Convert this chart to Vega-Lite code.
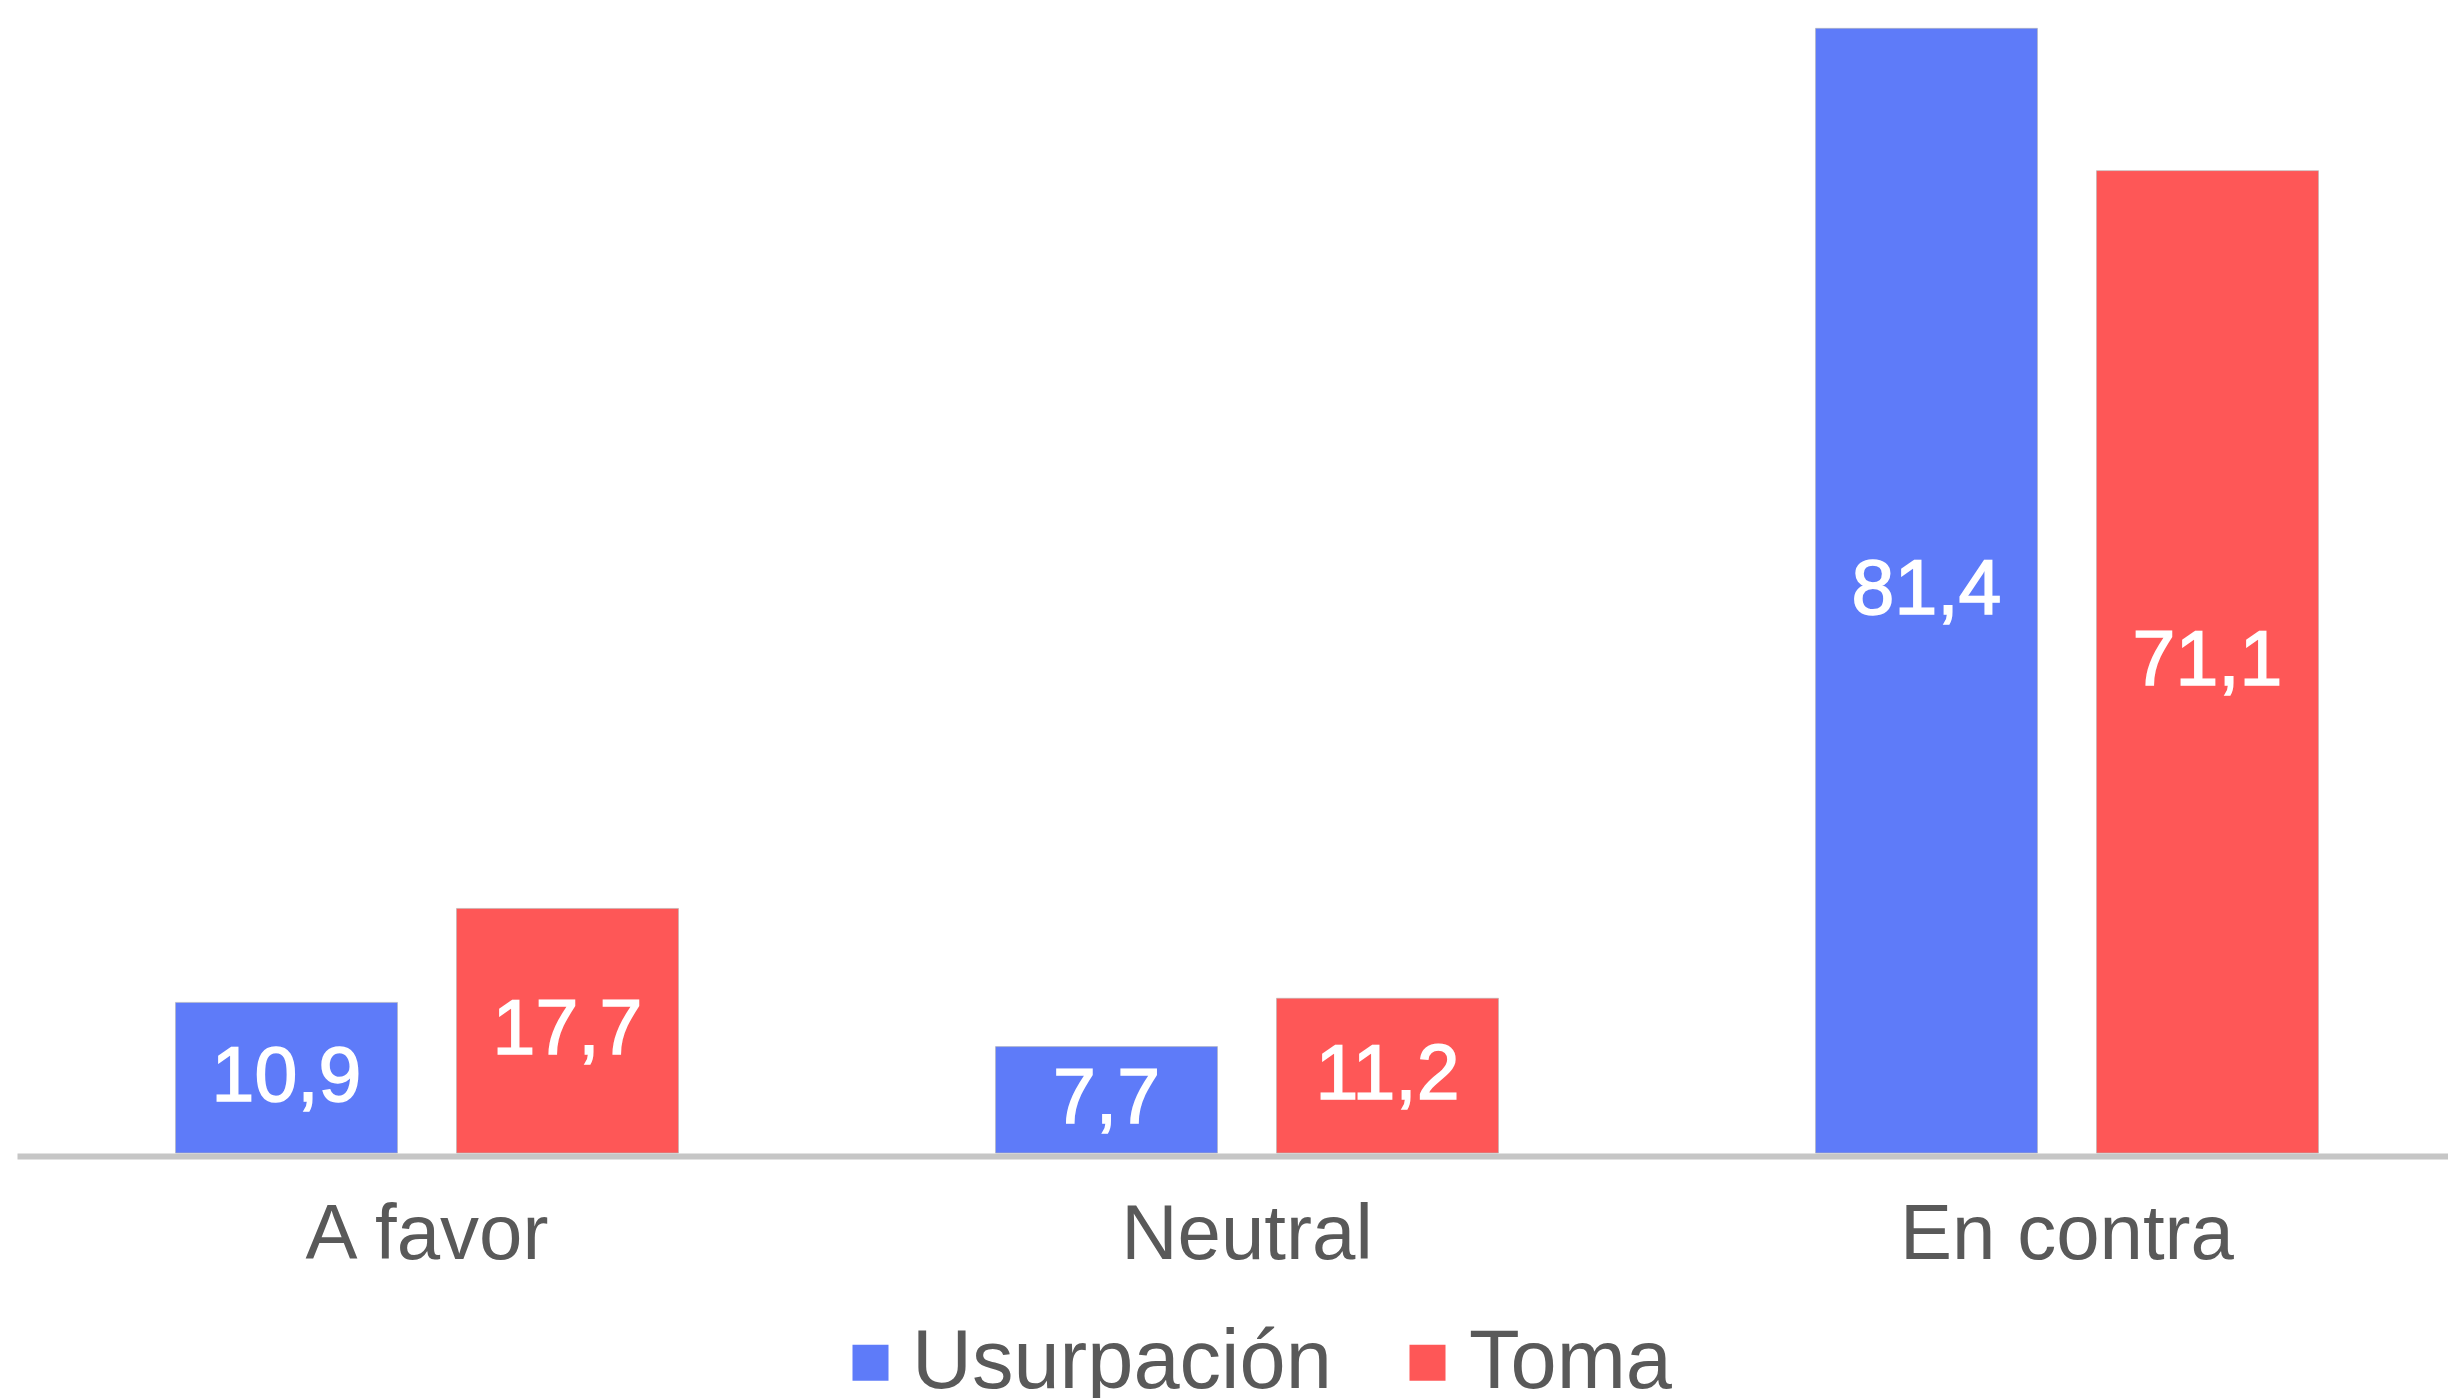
{
  "$schema": "https://vega.github.io/schema/vega-lite/v6.json",
  "width": 2431,
  "height": 1153,
  "autosize": {"type": "none"},
  "padding": {"left": 17, "top": 0, "right": 0, "bottom": 245},
  "background": "white",
  "data": {
    "values": [
      {"categoria": "A favor", "serie": "Usurpación", "valor": 10.9, "etiqueta": "10,9"},
      {"categoria": "A favor", "serie": "Toma", "valor": 17.7, "etiqueta": "17,7"},
      {"categoria": "Neutral", "serie": "Usurpación", "valor": 7.7, "etiqueta": "7,7"},
      {"categoria": "Neutral", "serie": "Toma", "valor": 11.2, "etiqueta": "11,2"},
      {"categoria": "En contra", "serie": "Usurpación", "valor": 81.4, "etiqueta": "81,4"},
      {"categoria": "En contra", "serie": "Toma", "valor": 71.1, "etiqueta": "71,1"}
    ]
  },
  "encoding": {
    "x": {
      "field": "categoria",
      "type": "nominal",
      "sort": ["A favor", "Neutral", "En contra"],
      "scale": {"range": [0, 2460], "paddingInner": 0, "paddingOuter": 0},
      "axis": {
        "title": null,
        "labelAngle": 0,
        "ticks": false,
        "tickSize": 0,
        "offset": 3,
        "domainColor": "#c6c6c6",
        "domainWidth": 6,
        "labelPadding": 40,
        "labelFontSize": 78,
        "labelFont": "Liberation Sans",
        "labelColor": "#595959",
        "labelLimit": 0,
        "grid": false
      }
    },
    "xOffset": {
      "field": "serie",
      "type": "nominal",
      "sort": ["Usurpación", "Toma"],
      "scale": {"paddingInner": 0.21, "paddingOuter": 0.564}
    }
  },
  "layer": [
    {
      "mark": {"type": "bar", "stroke": "#b5b5b5", "strokeWidth": 1, "strokeOpacity": 0.6},
      "encoding": {
        "y": {
          "field": "valor",
          "type": "quantitative",
          "scale": {"domain": [0, 83.45], "nice": false, "zero": true},
          "axis": null
        },
        "color": {
          "field": "serie",
          "type": "nominal",
          "sort": ["Usurpación", "Toma"],
          "scale": {"domain": ["Usurpación", "Toma"], "range": ["#5E7BF9", "#FE5757"]},
          "legend": {
            "title": null,
            "orient": "none",
            "legendX": 812,
            "legendY": 1321,
            "direction": "horizontal",
            "symbolType": "square",
            "symbolSize": 1296,
            "symbolStrokeWidth": 0,
            "symbolOpacity": 1,
            "labelFontSize": 83,
            "labelFont": "Liberation Sans",
            "labelColor": "#595959",
            "labelOffset": 0,
            "columnPadding": 54,
            "labelLimit": 1000,
            "padding": 0
          }
        }
      }
    },
    {
      "mark": {"type": "text", "color": "white", "stroke": "white", "strokeWidth": 1.5, "fontSize": 77, "font": "Liberation Sans", "baseline": "middle", "align": "center"},
      "encoding": {
        "y": {
          "field": "valor",
          "type": "quantitative",
          "scale": {"domain": [0, 166.9], "nice": false, "zero": true},
          "axis": null
        },
        "text": {"field": "etiqueta", "type": "nominal"}
      }
    }
  ],
  "resolve": {"scale": {"y": "independent"}},
  "config": {"view": {"stroke": null}}
}
